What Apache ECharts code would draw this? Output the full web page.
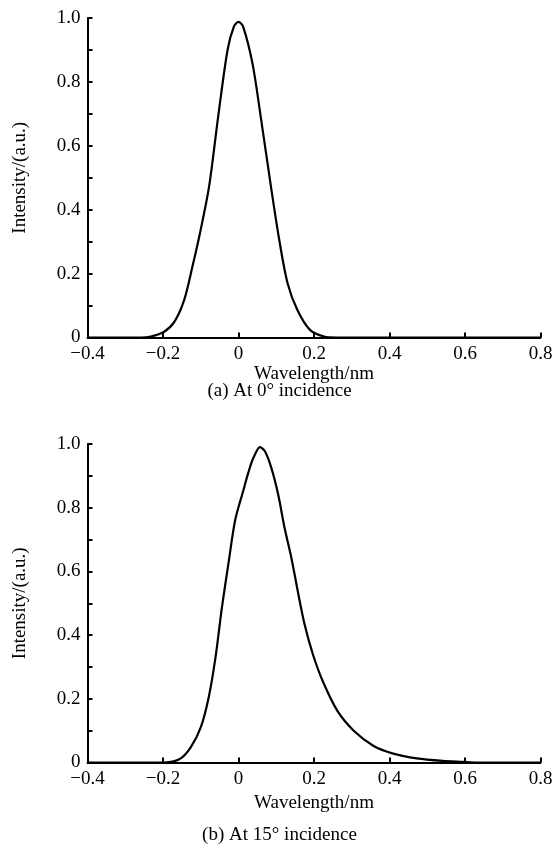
<!DOCTYPE html>
<html><head><meta charset="utf-8">
<script src="https://cdn.jsdelivr.net/npm/echarts@6/dist/echarts.min.js"></script>
<style>html,body{margin:0;padding:0;background:#fff}#c{width:559px;height:857px}</style>
</head><body><div id="c"></div>
<script>
// Panel (a): 0° incidence
const xA = [-0.4,-0.3,-0.26,-0.232,-0.197,-0.17,-0.144,-0.122,-0.102,-0.078,-0.054,-0.029,-0.012,0,0.012,0.037,0.059,0.086,0.108,0.13,0.156,0.19,0.227,0.26,0.3,0.4,0.5,0.6,0.8];
const yA = [0,0,0,0.003,0.018,0.049,0.117,0.222,0.327,0.472,0.69,0.90,0.974,0.988,0.974,0.858,0.69,0.472,0.305,0.17,0.086,0.023,0.003,0,0,0,0,0,0];
// Panel (b): 15° incidence
const xB = [-0.4,-0.3,-0.197,-0.157,-0.127,-0.100,-0.079,-0.061,-0.044,-0.026,-0.009,0.013,0.026,0.039,0.057,0.070,0.087,0.105,0.122,0.140,0.157,0.175,0.197,0.223,0.262,0.306,0.358,0.410,0.472,0.541,0.594,0.63,0.7,0.8];
const yB = [0,0,0,0.010,0.047,0.110,0.204,0.329,0.486,0.630,0.760,0.855,0.910,0.955,0.99,0.977,0.925,0.842,0.737,0.643,0.538,0.434,0.340,0.256,0.162,0.099,0.052,0.028,0.013,0.005,0.002,0,0,0];
const xTicks = [-0.4,-0.2,0,0.2,0.4,0.6,0.8];
const yTicks = [0,0.2,0.4,0.6,0.8,1.0];
const xTitle = 'Wavelength/nm';
const yTitle = 'Intensity/(a.u.)';
const captions = ['(a) At 0° incidence','(b) At 15° incidence'];

const FONT = 'Liberation Serif';
const FS = 19;
const chart = echarts.init(document.getElementById('c'));
const grids = [
  {left:87.5, top:18, width:453, height:319.5},
  {left:87.5, top:444, width:453, height:318.5}
];
function xAxis(i, gap){
  return {type:'value', gridIndex:i, min:xTicks[0], max:xTicks[xTicks.length-1], interval:0.2,
    axisLine:{show:true, onZero:false, lineStyle:{color:'#000', width:2}},
    axisTick:{show:true, inside:true, length:5, lineStyle:{color:'#000', width:2}},
    splitLine:{show:false},
    axisLabel:{color:'#000', fontFamily:FONT, fontSize:FS, margin:7,
      formatter:v=>{const r=Math.round(v*10)/10; return r===0?'0':(r<0?'\u2212'+Math.abs(r).toFixed(1):r.toFixed(1));}},
    name:xTitle, nameLocation:'middle', nameGap:gap,
    nameTextStyle:{color:'#000', fontFamily:FONT, fontSize:FS}};
}
function yAxis(i){
  return {type:'value', gridIndex:i, min:yTicks[0], max:yTicks[yTicks.length-1], interval:0.2,
    axisLine:{show:true, onZero:false, lineStyle:{color:'#000', width:2}},
    axisTick:{show:true, inside:true, length:5, lineStyle:{color:'#000', width:2}},
    minorTick:{show:true, splitNumber:2, length:5, lineStyle:{color:'#000', width:2}},
    splitLine:{show:false},
    axisLabel:{color:'#000', fontFamily:FONT, fontSize:FS, margin:7,
      formatter:v=>{const r=Math.round(v*10)/10; return r===0?'0':r.toFixed(1);}},
    name:yTitle, nameLocation:'middle', nameGap:58,
    nameTextStyle:{color:'#000', fontFamily:FONT, fontSize:FS}};
}
chart.setOption({
  animation:false,
  grid:grids,
  xAxis:[xAxis(0,27),xAxis(1,31)],
  yAxis:[yAxis(0),yAxis(1)],
  title:[
    {text:captions[0], left:'center', top:382, textStyle:{color:'#000', fontFamily:FONT, fontSize:FS, fontWeight:'normal'}, padding:0},
    {text:captions[1], left:'center', top:826, textStyle:{color:'#000', fontFamily:FONT, fontSize:FS, fontWeight:'normal'}, padding:0}
  ],
  series:[
    {type:'line', xAxisIndex:0, yAxisIndex:0, data:xA.map((x,i)=>[x,yA[i]]), smooth:0.3, showSymbol:false, lineStyle:{color:'#000', width:2.2}},
    {type:'line', xAxisIndex:1, yAxisIndex:1, data:xB.map((x,i)=>[x,yB[i]]), smooth:0.3, showSymbol:false, lineStyle:{color:'#000', width:2.2}}
  ]
});
</script></body></html>
